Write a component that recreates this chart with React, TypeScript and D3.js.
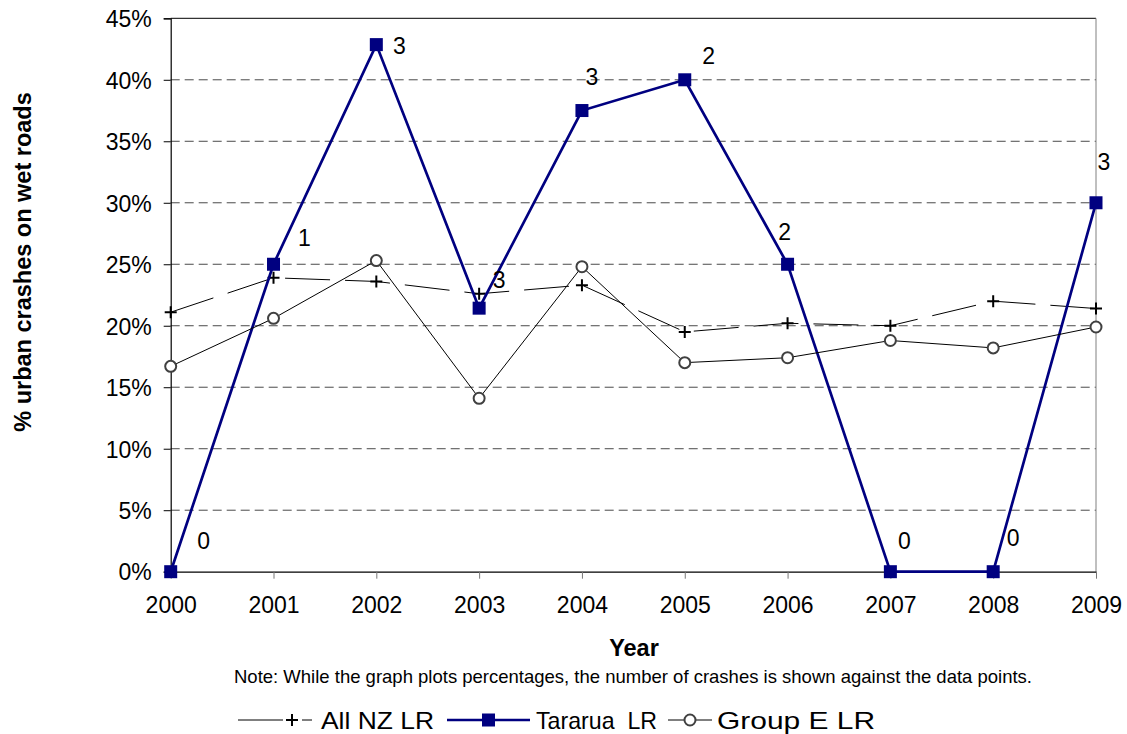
import { useRef, useEffect } from "react"
import * as d3 from "d3"

const years = ["2000", "2001", "2002", "2003", "2004", "2005", "2006", "2007", "2008", "2009"]
const allNZ = [21.1, 23.9, 23.6, 22.6, 23.3, 19.5, 20.2, 20.0, 22.0, 21.4]
const tararua = [0, 25, 42.86, 21.43, 37.5, 40, 25, 0, 0, 30]
const groupE = [16.7, 20.6, 25.3, 14.1, 24.8, 17.0, 17.4, 18.8, 18.2, 19.9]
const crashCounts = [0, 1, 3, 3, 3, 2, 2, 0, 0, 3]
const yTicks = [0, 5, 10, 15, 20, 25, 30, 35, 40, 45]
const seriesNames = ["All NZ LR", "Tararua\u00a0 LR", "Group E LR"]

// hand-placed nudges for the count labels (dx, dy from the marker)
const labelNudges = [
  [33, -31], [31, -27], [23, 1], [20, -28], [10, -34],
  [24, -24], [-3, -33], [14, -31], [20, -34], [8, -41],
]

export default function App() {
  const svgRef = useRef<SVGSVGElement>(null)

  function drawChart() {
    const width = 1127
    const height = 734
    const left = 170.7
    const right = 1096
    const top = 18.3
    const bottom = 571.7
    const font = "'Liberation Sans', Arial, sans-serif"

    const svg = d3.select(svgRef.current)
    svg.selectAll("*").remove()
    svg.attr("width", width).attr("height", height)

    const x = d3.scalePoint().domain(years).range([left, right])
    const y = d3.scaleLinear().domain([0, 45]).range([bottom, top])

    // gridlines
    svg
      .append("g")
      .selectAll("line")
      .data(yTicks.filter((d) => d > 0 && d < 45))
      .enter()
      .append("line")
      .attr("x1", left)
      .attr("x2", right)
      .attr("y1", (d) => y(d))
      .attr("y2", (d) => y(d))
      .attr("stroke", "#4a4a4a")
      .attr("stroke-dasharray", "9,5")

    // frame
    svg.append("line").attr("x1", left).attr("x2", right).attr("y1", top).attr("y2", top).attr("stroke", "#000")
    svg.append("line").attr("x1", right).attr("x2", right).attr("y1", top).attr("y2", bottom).attr("stroke", "#808080")

    // y axis
    const yAxis = svg.append("g").attr("transform", `translate(${left},0)`)
    yAxis.call(
      d3.axisLeft(y).tickValues(yTicks).tickSize(7).tickPadding(12).tickFormat((d) => `${d}%`)
    )
    yAxis.select(".domain").attr("stroke", "#000").attr("stroke-width", 1.2)
    yAxis.selectAll("text").style("font-size", "23px").style("font-family", font).attr("fill", "#000").attr("dy", "0.36em")

    // x axis
    const xAxis = svg.append("g").attr("transform", `translate(0,${bottom})`)
    xAxis.call(d3.axisBottom(x).tickSize(7).tickPadding(11).tickSizeOuter(0))
    xAxis.select(".domain").attr("stroke", "#000").attr("stroke-width", 1.2)
    xAxis.selectAll(".tick line").attr("stroke", "#777")
    xAxis.selectAll("text").style("font-size", "23px").style("font-family", font).attr("fill", "#000").attr("dy", "1em")

    const line = d3
      .line<number>()
      .x((d, i) => x(years[i])!)
      .y((d) => y(d))

    // All NZ LR
    svg
      .append("path")
      .attr("d", line(allNZ))
      .attr("fill", "none")
      .attr("stroke", "#000")
      .attr("stroke-width", 1)
      .attr("stroke-dasharray", "45,15")
    svg
      .append("g")
      .selectAll("path")
      .data(allNZ)
      .enter()
      .append("path")
      .attr("d", (d, i) => {
        const cx = x(years[i])!
        const cy = y(d)
        return `M${cx - 6},${cy}H${cx + 6}M${cx},${cy - 6}V${cy + 6}`
      })
      .attr("stroke", "#000")
      .attr("stroke-width", 2)

    // Tararua LR
    svg
      .append("path")
      .attr("d", line(tararua))
      .attr("fill", "none")
      .attr("stroke", "#000080")
      .attr("stroke-width", 2.7)
    svg
      .append("g")
      .selectAll("rect")
      .data(tararua)
      .enter()
      .append("rect")
      .attr("x", (d, i) => x(years[i])! - 6.5)
      .attr("y", (d) => y(d) - 6.5)
      .attr("width", 13)
      .attr("height", 13)
      .attr("fill", "#000080")

    // Group E LR
    svg
      .append("path")
      .attr("d", line(groupE))
      .attr("fill", "none")
      .attr("stroke", "#000")
      .attr("stroke-width", 1)
    svg
      .append("g")
      .selectAll("circle")
      .data(groupE)
      .enter()
      .append("circle")
      .attr("cx", (d, i) => x(years[i])!)
      .attr("cy", (d) => y(d))
      .attr("r", 5.5)
      .attr("fill", "#fff")
      .attr("stroke", "#404040")
      .attr("stroke-width", 2)

    // crash count labels
    svg
      .append("g")
      .selectAll("text")
      .data(crashCounts)
      .enter()
      .append("text")
      .text((d) => d)
      .attr("x", (d, i) => x(years[i])! + labelNudges[i][0])
      .attr("y", (d, i) => y(tararua[i]) + labelNudges[i][1])
      .attr("text-anchor", "middle")
      .attr("dy", "0.36em")
      .style("font-size", "23px")
      .style("font-family", font)

    // titles
    svg
      .append("text")
      .text("Year")
      .attr("x", 634)
      .attr("y", 656)
      .attr("text-anchor", "middle")
      .style("font-size", "23.5px")
      .style("font-weight", "bold")
      .style("font-family", font)
    svg
      .append("text")
      .text("Note: While the graph plots percentages, the number of crashes is shown against the data points.")
      .attr("x", 633)
      .attr("y", 683)
      .attr("text-anchor", "middle")
      .style("font-size", "18.5px")
      .style("font-family", font)
    svg
      .append("text")
      .text("% urban crashes on wet roads")
      .attr("transform", "translate(22.5,262) rotate(-90)")
      .attr("text-anchor", "middle")
      .attr("dy", "0.36em")
      .style("font-size", "23.5px")
      .style("font-weight", "bold")
      .style("font-family", font)

    // legend
    const legendY = 720
    const legend = svg.append("g")
    legend.append("line").attr("x1", 238).attr("x2", 283).attr("y1", legendY).attr("y2", legendY).attr("stroke", "#000")
    legend.append("line").attr("x1", 302).attr("x2", 312).attr("y1", legendY).attr("y2", legendY).attr("stroke", "#000")
    legend.append("path").attr("d", `M${286},${legendY}H${298}M${292},${legendY - 6}V${legendY + 6}`).attr("stroke", "#000").attr("stroke-width", 2)
    legend.append("line").attr("x1", 447).attr("x2", 530).attr("y1", legendY).attr("y2", legendY).attr("stroke", "#000080").attr("stroke-width", 2.7)
    legend.append("rect").attr("x", 482).attr("y", legendY - 6.5).attr("width", 13).attr("height", 13).attr("fill", "#000080")
    legend.append("line").attr("x1", 668).attr("x2", 712).attr("y1", legendY).attr("y2", legendY).attr("stroke", "#000")
    legend.append("circle").attr("cx", 690).attr("cy", legendY).attr("r", 5.5).attr("fill", "#fff").attr("stroke", "#404040").attr("stroke-width", 2)

    const legendX = [321, 536, 717]
    const legendW = [113, 121, 158]
    legend
      .selectAll("text")
      .data(seriesNames)
      .enter()
      .append("text")
      .text((d) => d)
      .attr("x", (d, i) => legendX[i])
      .attr("y", 729)
      .attr("textLength", (d, i) => legendW[i])
      .attr("lengthAdjust", "spacingAndGlyphs")
      .style("font-size", "24px")
      .style("font-family", font)
  }

  useEffect(() => {
    drawChart()
  }, [svgRef])

  return (
    <div>
      <svg ref={svgRef} style={{ position: "absolute", left: 0, top: 0 }}></svg>
    </div>
  )
}
